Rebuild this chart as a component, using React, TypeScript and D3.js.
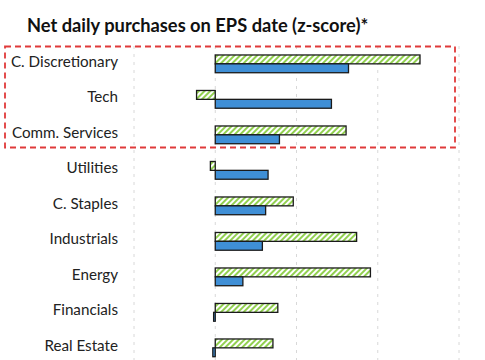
import React from "react";
import * as d3 from "d3";

const categories = [
  "C. Discretionary",
  "Tech",
  "Comm. Services",
  "Utilities",
  "C. Staples",
  "Industrials",
  "Energy",
  "Financials",
  "Real Estate",
];
const greenValues = [2.52, -0.23, 1.61, -0.06, 0.96, 1.74, 1.91, 0.77, 0.71];
const blueValues = [1.64, 1.43, 0.79, 0.65, 0.62, 0.58, 0.34, -0.02, -0.03];
const gridTicks = [-1, 0, 1, 2, 3];
const title = "Net daily purchases on EPS date (z-score)*";

const W = 485;
const H = 360;

export default function App() {
  const x = d3.scaleLinear().domain([-1, 3]).range([134, 459]);
  const y = d3
    .scaleBand<string>()
    .domain(categories)
    .range([46.1, 365.6])
    .paddingInner(0.5)
    .paddingOuter(0.25);
  const sub = d3
    .scaleBand<string>()
    .domain(["g", "b"])
    .range([0, y.bandwidth()])
    .padding(0);
  const font = "Lato, 'Open Sans', sans-serif";

  const bar = (v: number) => ({ x: Math.min(x(0), x(v)), w: Math.abs(x(v) - x(0)) });

  return (
    <svg
      width={W}
      height={H}
      style={{ position: "absolute", left: 0, top: 0, background: "#fff" }}
    >
      <defs>
        <pattern
          id="hatch"
          patternUnits="userSpaceOnUse"
          width={4}
          height={4}
          patternTransform="rotate(45)"
        >
          <rect width={4} height={4} fill="#ffffff" />
          <rect width={2} height={4} fill="#92d050" />
        </pattern>
      </defs>
      <rect width={W} height={H} fill="#fff" />
      <text
        x={27}
        y={31.5}
        fontFamily={font}
        fontWeight={700}
        fontSize={18.3}
        fill="#111"
      >
        {title}
      </text>
      {gridTicks.map((t) => (
        <line
          key={t}
          x1={x(t)}
          x2={x(t)}
          y1={46}
          y2={H}
          stroke="#d8d8d8"
          strokeWidth={1}
          strokeDasharray="3,5"
        />
      ))}
      {categories.map((c, i) => {
        const g = bar(greenValues[i]);
        const b = bar(blueValues[i]);
        const y0 = y(c)!;
        return (
          <g key={c}>
            <text
              x={118}
              y={y0 + y.bandwidth() / 2 - 1}
              textAnchor="end"
              dominantBaseline="middle"
              fontFamily={font}
              fontSize={15.2}
              fill="#222"
            >
              {c}
            </text>
            <rect
              x={g.x}
              y={y0 + sub("g")!}
              width={g.w}
              height={sub.bandwidth()}
              fill="url(#hatch)"
              stroke="#1a1a1a"
              strokeWidth={1.3}
            />
            <rect
              x={b.x}
              y={y0 + sub("b")!}
              width={b.w}
              height={sub.bandwidth()}
              fill="#3f8fd6"
              stroke="#1a1a1a"
              strokeWidth={1.3}
            />
          </g>
        );
      })}
      <rect
        x={5}
        y={46.5}
        width={450}
        height={101}
        fill="none"
        stroke="#e03a3a"
        strokeWidth={1.8}
        strokeDasharray="6,4"
      />
    </svg>
  );
}
